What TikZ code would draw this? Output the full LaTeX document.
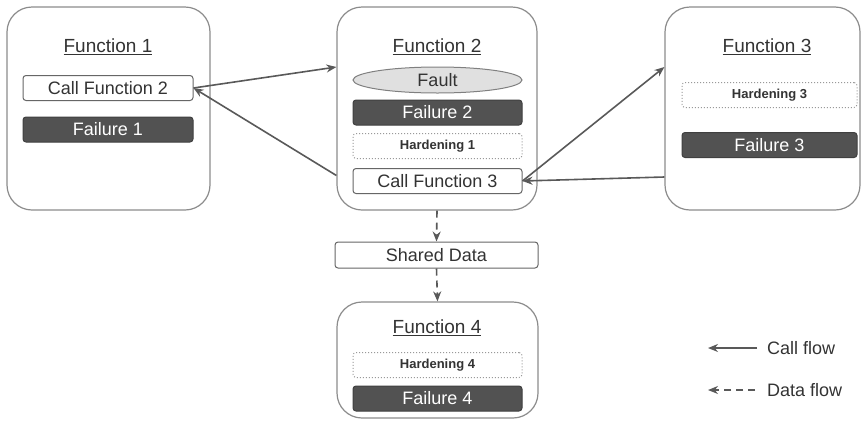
\documentclass[tikz,border=0pt]{standalone}
\usepackage{fontspec}
\setmainfont{Liberation Sans}
\usetikzlibrary{shapes.geometric, arrows.meta}

\begin{document}
\begin{tikzpicture}[x=1pt, y=-1pt, >={Stealth[length=10pt, width=8pt]},
  every node/.style={font=\fontsize{18}{21}\selectfont, text=black!80},
  fun box/.style={draw=black!45, line width=1.2pt, rounded corners=25pt, fill=white},
  inner box/.style={draw=black!60, line width=1pt, rounded corners=3pt, minimum height=25pt, inner sep=0pt},
  fail box/.style={inner box, draw=black!75, fill=black!68, text=white},
  hard box/.style={inner box, draw=black!40, dotted, font=\fontsize{13}{15}\bfseries},
  title text/.style={font=\fontsize{19}{22}\selectfont},
  call arrow/.style={->, draw=black!65, line width=1.6pt},
  data arrow/.style={call arrow, dash pattern=on 7pt off 5pt}]

\useasboundingbox (0,0) rectangle (862,421);

% outer function boxes
\node [fun box, minimum width=203pt, minimum height=203pt] (fun-1) at (108.5,108.5) {};
\node [fun box, minimum width=200pt, minimum height=203pt] (fun-2) at (437,108.5) {};
\node [fun box, minimum width=195pt, minimum height=203pt] (fun-3) at (762.5,108.5) {};
\node [fun box, minimum width=201pt, minimum height=116pt] (fun-4) at (437.5,360) {};

\foreach \n/\x/\y in {1/108/47, 2/437/47, 3/767/47, 4/437/328}
  \node [title text] (title-\n) at (\x,\y) {\underline{Function \n}};

% contents
\node [inner box, minimum width=170pt] (call-2) at (108,88) {Call Function 2};
\node [draw=black!50, fill=black!12, ellipse, minimum width=169pt, minimum height=26pt, inner sep=0pt, line width=1pt] (fault) at (437.5,80) {Fault};
\node [inner box, minimum width=169pt] (call-3) at (437.5,181) {Call Function 3};

\foreach \n/\x/\y/\w in {1/108/129.5/170, 2/437.5/112.5/169, 3/769.5/145/175, 4/437.5/398.5/169}
  \node [fail box, minimum width=\w pt] (fail-\n) at (\x,\y) {Failure \n};

\foreach \n/\x/\y/\w in {1/437.5/146/169, 3/769.5/95/175, 4/437.5/365/169}
  \node [hard box, minimum width=\w pt] (hard-\n) at (\x,\y) {Hardening \n};

\node [inner box, minimum width=203pt, minimum height=26pt] (shared) at (436.5,255) {Shared Data};

% call flow
\draw [call arrow] (call-2.east) -- ([yshift=41.5pt]fun-2.west);
\draw [call arrow] ([yshift=-67pt]fun-2.west) -- (call-2.east);
\draw [call arrow] (call-3.east) -- ([yshift=41.5pt]fun-3.west);
\draw [call arrow] ([yshift=-68.5pt]fun-3.west) -- (call-3.east);

% data flow
\draw [data arrow] (fun-2.south) -- (shared.north);
\draw [data arrow] (shared.south) -- (fun-4.north);

% legend
\node [anchor=west, inner sep=0pt] (leg-call) at (767,348) {Call flow};
\node [anchor=west, inner sep=0pt] (leg-data) at (767,390) {Data flow};
\coordinate (tip-call) at (708,348);
\coordinate (tip-data) at (708,390);
\draw [call arrow] ([xshift=-10pt]leg-call.west) -- (tip-call);
\draw [data arrow] ([xshift=-12pt]leg-data.west) -- (tip-data);
\end{tikzpicture}
\end{document}
